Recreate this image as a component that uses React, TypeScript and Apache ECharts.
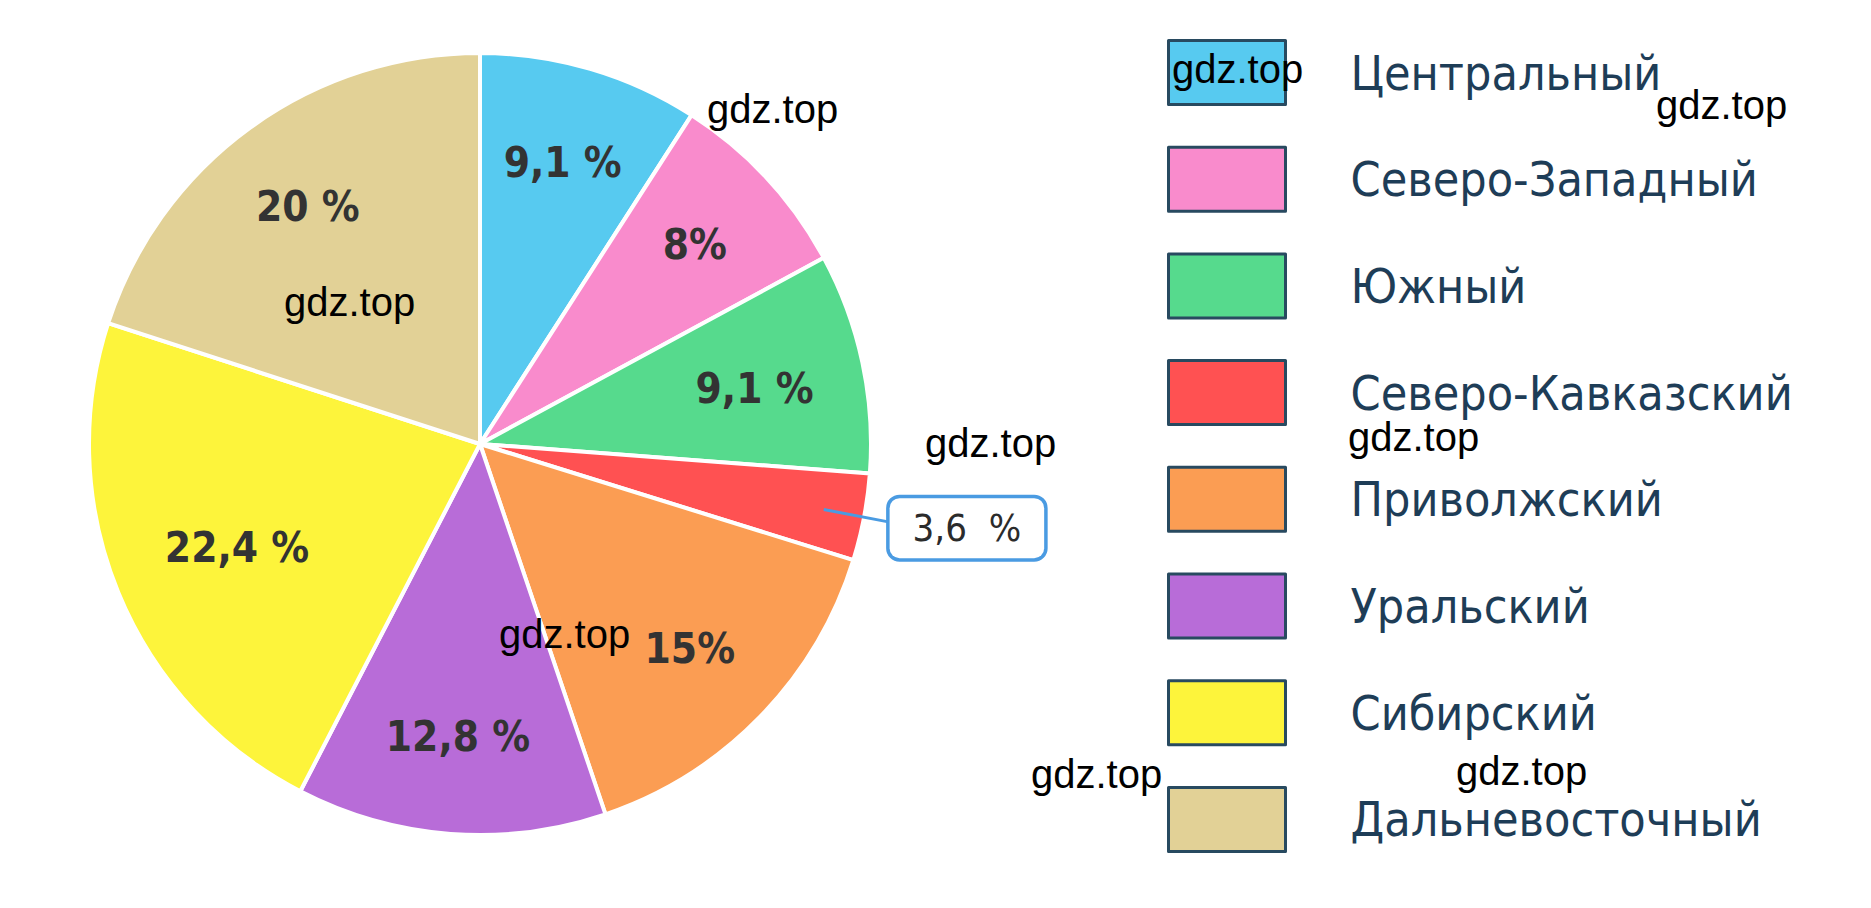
import React, { useEffect, useRef } from "react";
import * as echarts from "echarts";

// ---- data ----
const regions = [
  "Центральный",
  "Северо-Западный",
  "Южный",
  "Северо-Кавказский",
  "Приволжский",
  "Уральский",
  "Сибирский",
  "Дальневосточный",
];
const shares = [9.1, 8, 9.1, 3.6, 15, 12.8, 22.4, 20];
const shareLabels = ["9,1 %", "8%", "9,1 %", "3,6  %", "15%", "12,8 %", "22,4 %", "20 %"];
const sliceColors = [
  "#57caf0",
  "#f98bcc",
  "#56da8d",
  "#ff5152",
  "#fb9d53",
  "#b86cd8",
  "#fdf43b",
  "#e2d196",
];
const calloutIndex = 3;
const watermarkText = "gdz.top";

// ---- layout (not data) ----
const watermarkSpots: [number, number][] = [
  [707, 109],
  [1172, 69],
  [1656, 105],
  [284, 302],
  [925, 443],
  [1348, 437],
  [499, 634],
  [1031, 774],
  [1456, 771],
];
// small label nudges (dx, dy) to mimic the original hand-placed labels
const labelNudges: Record<number, { dx: number; dy: number }> = {
  2: { dx: -12, dy: 6 },
  3: { dx: 0, dy: 6 },
  6: { dx: 28, dy: -8 },
};
const CX = 480;
const CY = 444;
const narrow = "'DejaVu Sans Condensed', 'Noto Sans', sans-serif";

export default function App() {
  const ref = useRef<HTMLDivElement>(null);

  useEffect(() => {
    if (!ref.current) return;
    const chart = echarts.init(ref.current, null, { renderer: "svg" });
    chart.setOption({
      animation: false,
      backgroundColor: "#ffffff",
      legend: {
        orient: "vertical",
        left: 1167,
        top: 39,
        padding: 0,
        itemWidth: 117,
        itemHeight: 64,
        itemGap: 39.7,
        icon: "rect",
        selectedMode: false,
        itemStyle: { borderColor: "#284a60", borderWidth: 3 },
        textStyle: {
          fontSize: 48,
          lineHeight: 56,
          color: "#1e3d57",
          fontFamily: narrow,
          padding: [0, 0, 0, 60],
        },
        data: regions,
      },
      series: [
        {
          type: "pie",
          z: 2,
          center: [CX, CY],
          radius: 391,
          startAngle: 90,
          clockwise: true,
          silent: true,
          avoidLabelOverlap: false,
          itemStyle: { borderColor: "#ffffff", borderWidth: 4 },
          label: { show: false },
          labelLine: { show: false },
          data: regions.map((name, i) => ({
            name,
            value: shares[i],
            itemStyle: { color: sliceColors[i] },
          })),
        },
        {
          type: "pie",
          z: 5,
          center: [CX, CY],
          radius: [230, 350],
          startAngle: 90,
          clockwise: true,
          silent: true,
          avoidLabelOverlap: false,
          itemStyle: { color: "rgba(0,0,0,0)", borderWidth: 0 },
          label: {
            show: true,
            position: "inside",
            formatter: (p: any) => shareLabels[p.dataIndex],
            fontSize: 42,
            fontWeight: "bold",
            color: "#333333",
            fontFamily: narrow,
          },
          labelLine: { show: false },
          labelLayout: (p: any) => labelNudges[p.dataIndex] || {},
          data: regions.map((name, i) =>
            i === calloutIndex
              ? {
                  name,
                  value: shares[i],
                  label: {
                    position: "outside",
                    distanceToLabelLine: 0,
                    fontSize: 38,
                    fontWeight: "normal",
                    color: "#2b2b2b",
                    lineHeight: 42,
                    backgroundColor: "#ffffff",
                    borderColor: "#4a9be2",
                    borderWidth: 3.5,
                    borderRadius: 10,
                    padding: [9, 23, 9, 23],
                  },
                  labelLine: {
                    show: true,
                    length: 67,
                    length2: 0,
                    lineStyle: { color: "#4a9be2", width: 3 },
                  },
                }
              : { name, value: shares[i] }
          ),
        },
      ],
      graphic: watermarkSpots.map(([x, y]) => ({
        type: "text",
        x,
        y,
        z: 100,
        silent: true,
        style: {
          text: watermarkText,
          fontSize: 40,
          fontFamily: "'Liberation Sans', Arial, sans-serif",
          fill: "#000000",
          verticalAlign: "middle",
        },
      })),
    });
    return () => chart.dispose();
  }, []);

  return (
    <div
      ref={ref}
      style={{ position: "fixed", left: 0, top: 0, width: 1871, height: 908 }}
    />
  );
}
